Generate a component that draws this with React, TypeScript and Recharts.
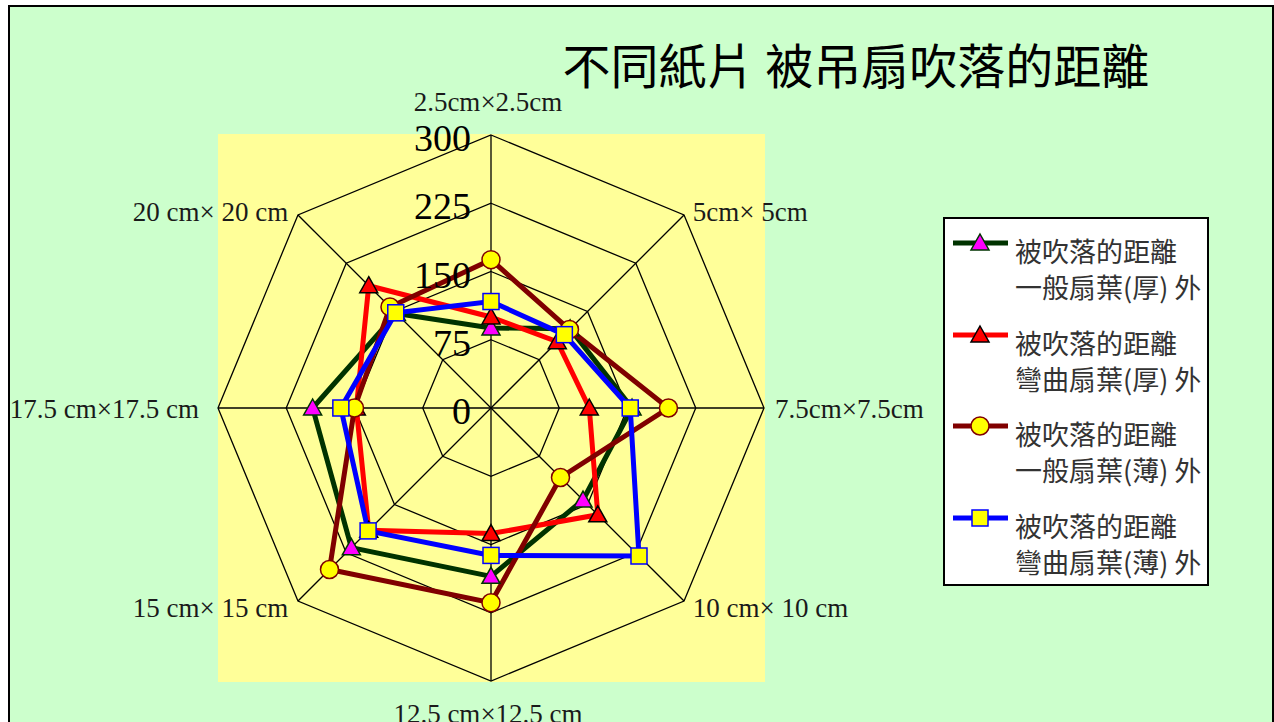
import {
  Legend,
  PolarAngleAxis,
  PolarGrid,
  PolarRadiusAxis,
  Radar,
  RadarChart,
} from "recharts";

// paper sizes, clockwise from the top spoke
const SIZES = [
  "2.5cm×2.5cm",
  "5cm× 5cm",
  "7.5cm×7.5cm",
  "10 cm× 10 cm",
  "12.5 cm×12.5 cm",
  "15 cm× 15 cm",
  "17.5 cm×17.5 cm",
  "20 cm× 20 cm",
];

// distance blown off (cm) for each fan / paper combination
const FLAT_THICK = [88, 123, 155, 143, 185, 217, 196, 147];
const CURVED_THICK = [100, 103, 108, 166, 138, 190, 148, 190];
const FLAT_THIN = [163, 122, 195, 108, 214, 251, 150, 157];
const CURVED_THIN = [117, 114, 153, 230, 162, 191, 165, 148];

const RADIUS_TICKS = [0, 75, 150, 225, 300];

const TITLE = "不同紙片 被吊扇吹落的距離";

type MarkerKind = "triangle" | "circle" | "square";

const SERIES = [
  { key: "flatThick", values: FLAT_THICK, lines: ["被吹落的距離", "一般扇葉(厚) 外"], stroke: "#003300", marker: "triangle" as MarkerKind, fill: "#FF00FF", edge: "#003300" },
  { key: "curvedThick", values: CURVED_THICK, lines: ["被吹落的距離", "彎曲扇葉(厚) 外"], stroke: "#FF0000", marker: "triangle" as MarkerKind, fill: "#FF0000", edge: "#000000" },
  { key: "flatThin", values: FLAT_THIN, lines: ["被吹落的距離", "一般扇葉(薄) 外"], stroke: "#800000", marker: "circle" as MarkerKind, fill: "#FFFF00", edge: "#800000" },
  { key: "curvedThin", values: CURVED_THIN, lines: ["被吹落的距離", "彎曲扇葉(薄) 外"], stroke: "#0000FF", marker: "square" as MarkerKind, fill: "#FFFF00", edge: "#0000FF" },
];

const data = SIZES.map((size, i) => {
  const row: Record<string, string | number> = { size };
  SERIES.forEach((s) => {
    row[s.key] = s.values[i];
  });
  return row;
});

const SERIF = "'Liberation Serif', 'Times New Roman', serif";
const CJK = "'Noto Sans CJK TC', 'Noto Sans CJK SC', sans-serif";

function Marker({ kind, x, y, fill, edge }: { kind: MarkerKind; x: number; y: number; fill: string; edge: string }) {
  if (kind === "triangle") {
    return (
      <path
        d={`M${x},${y - 9} L${x + 9},${y + 7} L${x - 9},${y + 7} Z`}
        fill={fill}
        stroke={edge}
        strokeWidth={1.5}
        strokeLinejoin="miter"
      />
    );
  }
  if (kind === "circle") {
    return <circle cx={x} cy={y} r={9} fill={fill} stroke={edge} strokeWidth={1.5} />;
  }
  return <rect x={x - 8} y={y - 8} width={16} height={16} fill={fill} stroke={edge} strokeWidth={1.5} />;
}

const makeDot = (s: (typeof SERIES)[number]) => (p: any) => (
  <g key={`${s.key}-${p.index}`}>
    <Marker kind={s.marker} x={p.cx} y={p.cy} fill={s.fill} edge={s.edge} />
  </g>
);

function AngleTick(props: any) {
  const { x, y, cx, cy, payload } = props;
  const dx = x - cx;
  const dy = y - cy;
  const d = Math.hypot(dx, dy) || 1;
  const ux = dx / d;
  const uy = dy / d;
  let anchor: "start" | "middle" | "end" = "middle";
  let tx = x;
  let ty = y;
  if (Math.abs(ux) < 0.3) {
    tx = x - 3;
    ty = y + uy * 25;
  } else if (ux > 0) {
    anchor = "start";
    tx = x + 3;
    ty = y + (uy < -0.3 ? 3 : 1);
  } else {
    anchor = "end";
    tx = x + (Math.abs(uy) < 0.3 ? -11 : -4);
    ty = y + (uy < -0.3 ? 3 : 1);
  }
  return (
    <text
      x={tx}
      y={ty}
      textAnchor={anchor}
      dominantBaseline="central"
      fontFamily={SERIF}
      fontSize={27}
      fill="#1a1a1a"
    >
      {payload.value}
    </text>
  );
}

function RadiusTick(props: any) {
  const { x, y, payload } = props;
  return (
    <text
      x={x - 20}
      y={y + 3}
      textAnchor="end"
      dominantBaseline="central"
      fontFamily={SERIF}
      fontSize={38}
      fill="#000"
    >
      {payload.value}
    </text>
  );
}

function LegendBox() {
  return (
    <div
      style={{
        width: 266,
        height: 369,
        boxSizing: "border-box",
        border: "2px solid #000",
        background: "#fff",
        position: "relative",
      }}
    >
      {SERIES.map((s, i) => (
        <div key={s.key} style={{ position: "absolute", left: 0, top: 14 + i * 91.5 }}>
          <svg width={70} height={24} style={{ position: "absolute", left: 0, top: -2 }}>
            <line x1={8} y1={12} x2={63} y2={12} stroke={s.stroke} strokeWidth={5} />
            <Marker kind={s.marker} x={35} y={12} fill={s.fill} edge={s.edge} />
          </svg>
          <div
            style={{
              position: "absolute",
              left: 70,
              top: 0,
              fontFamily: CJK,
              fontSize: 27,
              lineHeight: "36px",
              color: "#333",
              whiteSpace: "nowrap",
            }}
          >
            {s.lines.map((t) => (
              <div key={t}>{t}</div>
            ))}
          </div>
        </div>
      ))}
    </div>
  );
}

export default function App() {
  return (
    <>
      <style>{"html, body { overflow: hidden; }"}</style>
      <div
        style={{
          position: "absolute",
          left: 8,
          top: 5,
          width: 1266,
          height: 740,
          boxSizing: "border-box",
          border: "2px solid #000",
          background: "#CCFFCC",
        }}
      />
      <div style={{ position: "absolute", left: 0, top: 0, width: 1274, height: 722 }}>
        <div
          style={{
            position: "absolute",
            left: 218,
            top: 134,
            width: 547,
            height: 548,
            background: "#FFFF99",
          }}
        />
        <div
          style={{
            position: "absolute",
            left: 556,
            top: 33,
            width: 600,
            textAlign: "center",
            fontFamily: CJK,
            fontSize: 48,
            lineHeight: "60px",
            color: "#000",
            whiteSpace: "pre",
          }}
        >
          {TITLE}
        </div>
        <div style={{ position: "absolute", left: 0, top: 0 }}>
          <RadarChart
            width={1274}
            height={722}
            data={data}
            cx={491}
            cy={408}
            outerRadius={273}
            margin={{ top: 0, right: 0, bottom: 0, left: 0 }}
          >
            <PolarGrid gridType="polygon" stroke="#000" strokeWidth={1.3} />
            <PolarAngleAxis dataKey="size" tick={<AngleTick />} tickLine={false} axisLine={false} />
            <PolarRadiusAxis
              angle={90}
              domain={[0, 300]}
              ticks={RADIUS_TICKS}
              tick={<RadiusTick />}
              axisLine={false}
              tickLine={false}
            />
            {SERIES.map((s) => (
              <Radar
                key={s.key}
                dataKey={s.key}
                name={s.lines.join(" ")}
                stroke={s.stroke}
                strokeWidth={5}
                fill="none"
                fillOpacity={0}
                dot={makeDot(s)}
                isAnimationActive={false}
              />
            ))}
            <Legend
              content={() => <LegendBox />}
              wrapperStyle={{ position: "absolute", left: 943, top: 217, width: 266, height: 369 }}
            />
          </RadarChart>
        </div>
      </div>
    </>
  );
}
